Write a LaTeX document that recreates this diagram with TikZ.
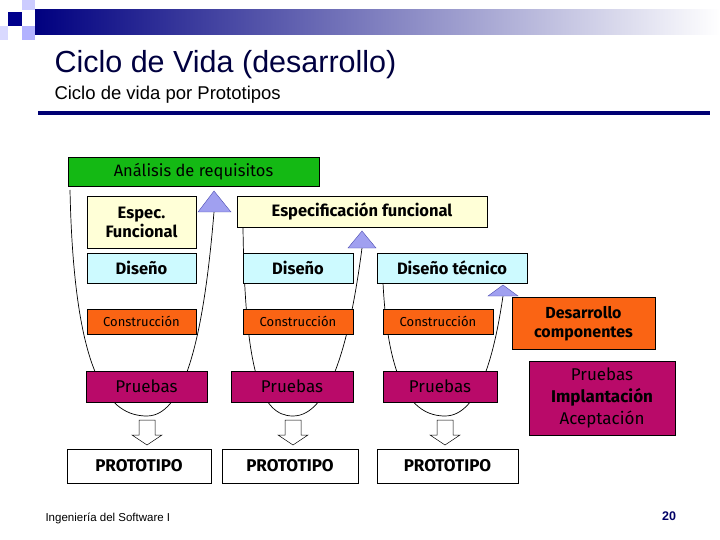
\documentclass[tikz,border=0pt]{standalone}
\usepackage{fontspec}
\setmainfont{Liberation Sans}
\newfontfamily\boxfont{Fira Sans}
\definecolor{pru}{RGB}{185,10,105}
\definecolor{gre}{RGB}{20,185,20}
\definecolor{ora}{RGB}{250,100,20}
\definecolor{cya}{RGB}{205,250,255}
\definecolor{yel}{RGB}{255,255,215}
\definecolor{tri}{RGB}{160,160,240}
\begin{document}
\begin{tikzpicture}[x=1pt,y=-1pt,
  bx/.style={draw=black,line width=0.6pt,inner sep=0pt,font=\boxfont\fontsize{16.5}{19}\selectfont,align=center},
  trs/.style={fill=tri,draw=blue!40!gray,line width=0.4pt},
  hol/.style={draw=black,fill=white,line width=0.5pt},
  crv/.style={line width=0.7pt}]
\useasboundingbox (0,0) rectangle (720,540);
\fill[white] (0,0) rectangle (720,540);
% header decoration
\shade[left color=blue!50!black,right color=white] (35,10) rectangle (720,35);
\fill[blue!55!black] (8,12) rectangle (22,26);
\fill[blue!20!white] (22,0) rectangle (35,10);
\fill[blue!30!white] (22,26) rectangle (35,40);
\fill[blue!15!white] (0,26) rectangle (8,40);
\node[anchor=west,font=\fontsize{30.5}{33}\selectfont,text=blue!25!black] (t) at (51,65) {Ciclo de Vida (desarrollo)};
\node[anchor=west,font=\fontsize{18.5}{21}\selectfont,text=black] (st) at (51,95) {Ciclo de vida por Prototipos};
\fill[blue!45!black] (38,111) rectangle (710,115);
% curves
\draw[crv] (70,190) .. controls (74,380) and (110,416) .. (147,416) .. controls (188,416) and (205,320) .. (214,212);
\draw[crv] (243,228) .. controls (245,370) and (260,416) .. (293,416) .. controls (330,416) and (350,340) .. (362,248);
\draw[crv] (383,283) .. controls (388,380) and (410,416) .. (445,416) .. controls (480,416) and (495,350) .. (503,296);
% triangles
\filldraw[trs] (214,191) -- (231,212) -- (198,212) -- cycle;
\filldraw[trs] (362,231) -- (376,248) -- (348,248) -- cycle;
\filldraw[trs] (503,285) -- (518,296) -- (488,296) -- cycle;
% boxes
\node[bx,fill=gre,minimum width=251,minimum height=29] (an) at (193.5,171.5) {Análisis de requisitos};
\node[bx,fill=yel,minimum width=109,minimum height=52,font=\boxfont\bfseries\fontsize{16.5}{19}\selectfont] (ef1) at (141.5,222) {Espec.\\Funcional};
\node[bx,fill=yel,minimum width=250,minimum height=31,font=\boxfont\bfseries\fontsize{16.5}{19}\selectfont] (ef2) at (362,211.5) {Especificación funcional};
\node[bx,fill=cya,minimum width=109,minimum height=30,font=\boxfont\bfseries\fontsize{16.5}{19}\selectfont] (d1) at (141.5,268) {Diseño};
\node[bx,fill=cya,minimum width=110,minimum height=30,font=\boxfont\bfseries\fontsize{16.5}{19}\selectfont] (d2) at (298,268) {Diseño};
\node[bx,fill=cya,minimum width=150,minimum height=30,font=\boxfont\bfseries\fontsize{16.5}{19}\selectfont] (d3) at (452,268) {Diseño técnico};
\node[bx,fill=ora,minimum width=109,minimum height=25,font=\boxfont\fontsize{13}{15}\selectfont] (c1) at (141.5,321.5) {Construcción};
\node[bx,fill=ora,minimum width=110,minimum height=25,font=\boxfont\fontsize{13}{15}\selectfont] (c2) at (298,321.5) {Construcción};
\node[bx,fill=ora,minimum width=110,minimum height=25,font=\boxfont\fontsize{13}{15}\selectfont] (c3) at (438,321.5) {Construcción};
\node[bx,fill=ora,minimum width=143,minimum height=52,font=\boxfont\bfseries\fontsize{16}{19}\selectfont] (dc) at (583.5,323.5) {Desarrollo\\componentes};
\node[bx,fill=pru,minimum width=121,minimum height=31,font=\boxfont\fontsize{17}{19}\selectfont] (p1) at (146.5,386.5) {Pruebas};
\node[bx,fill=pru,minimum width=122,minimum height=31,font=\boxfont\fontsize{17}{19}\selectfont] (p2) at (292,386.5) {Pruebas};
\node[bx,fill=pru,minimum width=114,minimum height=31,font=\boxfont\fontsize{17}{19}\selectfont] (p3) at (440,386.5) {Pruebas};
\node[bx,fill=pru,minimum width=146,minimum height=74,font=\boxfont\fontsize{17}{22}\selectfont] (p4) at (602,398) {Pruebas\\\textbf{Implantación}\\Aceptación};
\node[bx,fill=white,minimum width=144,minimum height=34,font=\boxfont\bfseries\fontsize{17}{19}\selectfont] (pr1) at (139,466) {PROTOTIPO};
\node[bx,fill=white,minimum width=136,minimum height=34,font=\boxfont\bfseries\fontsize{17}{19}\selectfont] (pr2) at (290,466) {PROTOTIPO};
\node[bx,fill=white,minimum width=141,minimum height=34,font=\boxfont\bfseries\fontsize{17}{19}\selectfont] (pr3) at (447.5,466) {PROTOTIPO};
% hollow arrows
\foreach \c in {147,293,445}{
  \draw[hol] (\c-8,420) -- (\c+8,420) -- (\c+8,435) -- (\c+15,435) -- (\c,445) -- (\c-15,435) -- (\c-8,435) -- cycle;
}
% footer
\node[anchor=west,font=\fontsize{11.5}{13}\selectfont] (ft) at (42,518) {Ingeniería del Software I};
\node[font=\bfseries\fontsize{12.5}{14}\selectfont,text=blue!40!black] (pg) at (669,516) {20};
\end{tikzpicture}
\end{document}
